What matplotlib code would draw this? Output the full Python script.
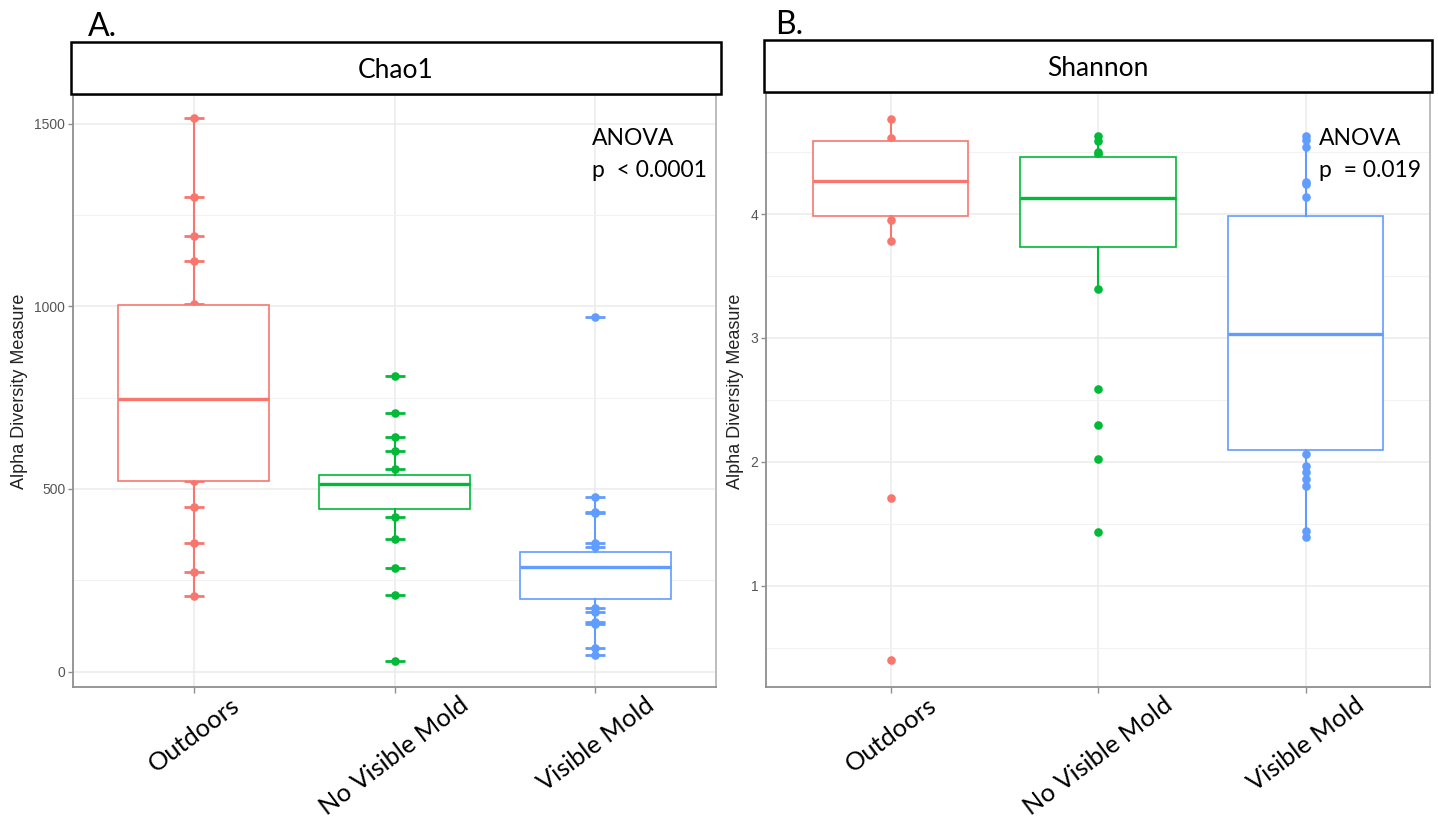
import matplotlib
matplotlib.use("Agg")
import matplotlib.pyplot as plt
from matplotlib.patches import Rectangle
from matplotlib.ticker import MultipleLocator

# ---------------- data ----------------
categories = ["Outdoors", "No Visible Mold", "Visible Mold"]
colors = ["#F8766D", "#00BA38", "#619CFF"]

# Chao1 visible points
chao_outdoors = [1514, 1300, 1193, 1124, 1005, 522, 450, 353, 273, 208]
chao_nvm = [809, 708, 641, 605, 555, 422, 363, 284, 210, 30]
chao_vm = [970, 479, 438, 433, 351, 342, 173, 164, 137, 130, 64, 46]
# Chao1 box stats: whislo, q1, median, q3, whishi
chao_box_outdoors = [208, 522, 746, 1003, 1514]
chao_box_nvm = [363, 444, 514, 537, 641]
chao_box_vm = [46, 198, 286, 327, 479]

# Shannon visible points
shan_outdoors = [4.764, 4.617, 3.949, 3.784, 1.709, 0.401]
shan_nvm = [4.627, 4.589, 4.50, 4.48, 3.399, 2.59, 2.298, 2.021, 1.436]
shan_vm = [4.627, 4.595, 4.538, 4.261, 4.245, 4.134, 2.065, 1.97, 1.92, 1.86,
           1.81, 1.445, 1.397]
shan_box_outdoors = [3.784, 3.987, 4.267, 4.592, 4.764]
shan_box_nvm = [3.399, 3.736, 4.130, 4.458, 4.627]
shan_box_vm = [1.397, 2.094, 3.036, 3.981, 4.627]

panel_titles = ["Chao1", "Shannon"]
panel_letters = ["A.", "B."]
anova_lines = [["ANOVA", "p  < 0.0001"], ["ANOVA", "p  = 0.019"]]
ylabel = "Alpha Diversity Measure"

W, H = 1438, 822
fig = plt.figure(figsize=(W / 100, H / 100), dpi=100)
fig.patch.set_facecolor("white")

CAL = ["Lato", "DejaVu Sans"]
ARIAL = ["Liberation Sans", "DejaVu Sans"]


def fx(px):
    return px / W


def fy(py):
    return 1 - py / H


def make_axes(x0, x1, y0, y1):
    return fig.add_axes([fx(x0), fy(y1), fx(x1 - x0), (y1 - y0) / H])


panels = [
    dict(ax=make_axes(73, 716, 95, 687), ylim=(-42, 1578), major=500, minor=250,
         pts=[chao_outdoors, chao_nvm, chao_vm],
         box=[chao_box_outdoors, chao_box_nvm, chao_box_vm], dash=True,
         anova_x=1.985, anova_y=[1460, 1371], strip=(71, 721, 42, 94.5),
         letter=(88, 36), ylab_x=20),
    dict(ax=make_axes(766, 1430, 93, 687), ylim=(0.185, 4.976), major=1, minor=0.5,
         pts=[shan_outdoors, shan_nvm, shan_vm],
         box=[shan_box_outdoors, shan_box_nvm, shan_box_vm], dash=False,
         anova_x=2.067, anova_y=[4.609, 4.347], strip=(764, 1432, 40, 92),
         letter=(775, 34.5), ylab_x=735),
]

for i, p in enumerate(panels):
    ax = p["ax"]
    ax.set_facecolor("white")
    ax.set_xlim(-0.6, 2.6)
    ax.set_ylim(*p["ylim"])
    ax.yaxis.set_major_locator(MultipleLocator(p["major"]))
    ax.yaxis.set_minor_locator(MultipleLocator(p["minor"]))
    ax.grid(True, which="major", color="#EBEBEB", lw=1.1, zorder=0)
    ax.grid(True, which="minor", axis="y", color="#F2F2F2", lw=0.8, zorder=0)
    ax.set_axisbelow(True)
    for side, sp in ax.spines.items():
        sp.set_color("#8F8F8F" if side in ("left", "bottom") else "#B8B8B8")
        sp.set_linewidth(1.3)

    # points
    for j, vals in enumerate(p["pts"]):
        xs = [j] * len(vals)
        ax.plot(xs, vals, "o", color=colors[j], ms=6.2, mew=0, zorder=2)
        if p["dash"]:
            ax.plot(xs, vals, "_", color=colors[j], ms=15, mew=2.0, zorder=2)

    # boxes
    for j, b in enumerate(p["box"]):
        c = colors[j]
        st = dict(whislo=b[0], q1=b[1], med=b[2], q3=b[3], whishi=b[4], fliers=[])
        ax.bxp([st], positions=[j], widths=0.75, patch_artist=True,
               showcaps=False, showfliers=False,
               boxprops=dict(facecolor="white", edgecolor=c, lw=1.2),
               medianprops=dict(color=c, lw=2.4, solid_capstyle="butt"),
               whiskerprops=dict(color=c, lw=1.5),
               zorder=3, manage_ticks=False)

    ax.set_xticks(range(len(categories)))
    ax.set_xticklabels(categories, family=CAL, fontsize=18.3, rotation=37,
                       ha="center", va="top", color="black")
    ax.tick_params(axis="x", length=4, width=1, color="#8F8F8F", pad=0.5)
    ax.tick_params(axis="y", which="major", length=3.5, width=1, color="#8F8F8F",
                   pad=2, labelsize=10, labelcolor="#555555")
    ax.tick_params(axis="y", which="minor", length=0)
    for lab in ax.get_yticklabels():
        lab.set_family(ARIAL)

    # ANOVA text
    for line, yv in zip(anova_lines[i], p["anova_y"]):
        ax.text(p["anova_x"], yv, line, family=CAL, fontsize=16.5, ha="left",
                va="center", color="black", zorder=5)

    # strip
    sx0, sx1, sy0, sy1 = p["strip"]
    fig.patches.append(Rectangle((fx(sx0), fy(sy1)), fx(sx1 - sx0), (sy1 - sy0) / H,
                                 transform=fig.transFigure, facecolor="white",
                                 edgecolor="black", lw=1.8, zorder=5))
    fig.text(fx((sx0 + sx1) / 2), fy((sy0 + sy1) / 2), panel_titles[i], family=CAL,
             fontsize=19, ha="center", va="center_baseline", color="black",
             zorder=10)

    # panel letter
    lx, ly = p["letter"]
    fig.text(fx(lx), fy(ly), panel_letters[i], family=CAL, fontsize=23,
             ha="left", va="baseline", color="black", zorder=10)

    # y label
    fig.text(fx(p["ylab_x"]), fy(391), ylabel, family=ARIAL, fontsize=13,
             rotation=90, ha="center", va="center", color="#222222")

fig.savefig("out.png", dpi=100, facecolor="white")
